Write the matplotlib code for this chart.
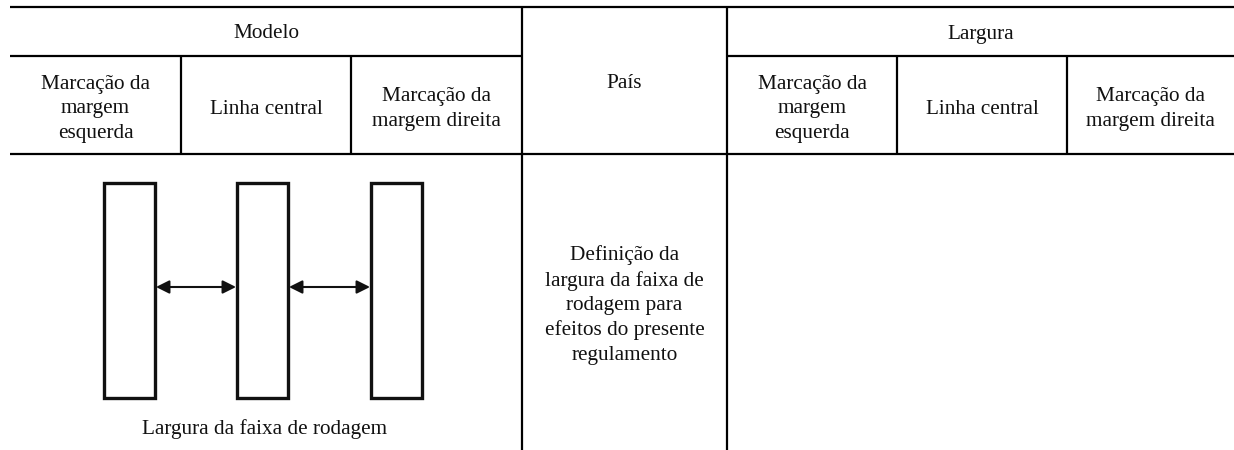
import matplotlib
matplotlib.use("Agg")
import matplotlib.pyplot as plt
from matplotlib.patches import Rectangle

# =========================
# TABLE CONTENT
# =========================
group_headers = ["Modelo", "Largura"]
middle_header = "País"
sub_headers = ["Marcação da\nmargem\nesquerda", "Linha central", "Marcação da\nmargem direita"]
body_text = "Definição da\nlargura da faixa de\nrodagem para\nefeitos do presente\nregulamento"
caption = "Largura da faixa de rodagem"
lane_count = 3

# =========================
# LAYOUT (pixel coordinates)
# =========================
W, H = 1234, 450
col_x = [10, 181, 351, 522, 727, 897, 1067, 1234]
row_y = [7, 56, 154, 450]
lane_x = [104, 237, 371]
lane_w = 51
lane_top, lane_bot = 183, 398
arrow_y = 287

FONT = "Liberation Serif"
FS = 15.3
LS = 1.37
LW = 1.6

fig = plt.figure(figsize=(W / 100, H / 100), dpi=100)
ax = fig.add_axes([0, 0, 1, 1])
ax.set_xlim(0, W)
ax.set_ylim(H, 0)
ax.axis("off")

def hline(y, x0, x1):
    ax.plot([x0, x1], [y, y], color="black", lw=LW, solid_capstyle="butt")

def vline(x, y0, y1):
    ax.plot([x, x], [y0, y1], color="black", lw=LW, solid_capstyle="butt")

def cell_text(x, y, s):
    ax.text(x, y, s, ha="center", va="center", family=FONT, fontsize=FS,
            linespacing=LS, color="#111111")

# --- grid lines ---
hline(row_y[0], col_x[0], col_x[-1])
hline(row_y[1], col_x[0], col_x[3])
hline(row_y[1], col_x[4], col_x[-1])
hline(row_y[2], col_x[0], col_x[-1])
vline(col_x[3], row_y[0], row_y[3])
vline(col_x[4], row_y[0], row_y[3])
for i in [1, 2, 5, 6]:
    vline(col_x[i], row_y[1], row_y[2])

# --- header text ---
cell_text((col_x[0] + col_x[3]) / 2, 34, group_headers[0])
cell_text((col_x[4] + col_x[7]) / 2, 34, group_headers[1])
cell_text((col_x[3] + col_x[4]) / 2, 83, middle_header)
for k, lab in enumerate(sub_headers):
    cell_text((col_x[k] + col_x[k + 1]) / 2, 109, lab)
    cell_text((col_x[k + 4] + col_x[k + 5]) / 2, 109, lab)

# --- body text ---
cell_text((col_x[3] + col_x[4]) / 2, 305, body_text)

# --- lane diagram ---
for i in range(lane_count):
    ax.add_patch(Rectangle((lane_x[i], lane_top), lane_w, lane_bot - lane_top,
                           fill=False, edgecolor="#111111", lw=2.4))
for i in range(lane_count - 1):
    ax.annotate("", xy=(lane_x[i + 1] - 1, arrow_y), xytext=(lane_x[i] + lane_w + 1, arrow_y),
                arrowprops=dict(arrowstyle="<|-|>", color="#111111", lw=1.5,
                                mutation_scale=20, shrinkA=0, shrinkB=0))
cell_text(265, 429, caption)

fig.savefig("out.png", dpi=100)
